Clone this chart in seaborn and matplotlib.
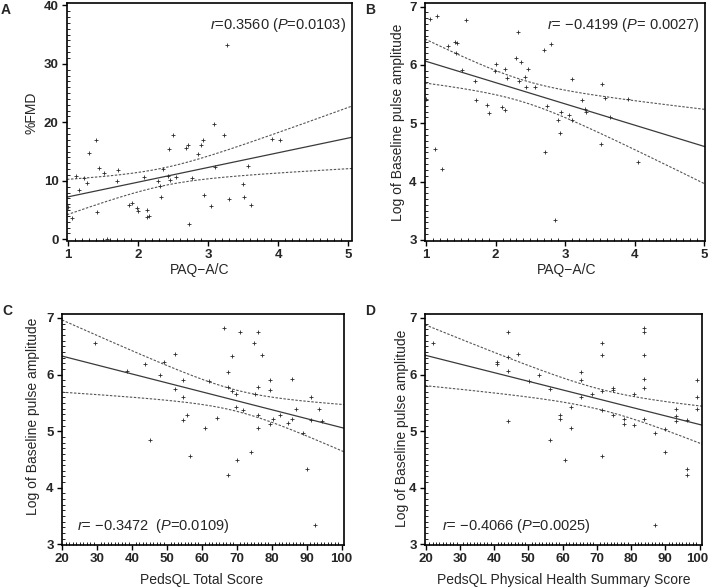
import numpy as np
import pandas as pd
import matplotlib
matplotlib.use("Agg")
import matplotlib.pyplot as plt
from matplotlib.ticker import MultipleLocator
from matplotlib.transforms import ScaledTranslation
import seaborn as sns

# ---------------- data ----------------
# Panel A: PAQ-A/C vs %FMD
a_x = [1.00, 1.06, 1.12, 1.16, 1.23, 1.27, 1.30, 1.40, 1.42, 1.44, 1.51, 1.56, 1.70, 1.72,
       1.87, 1.91, 1.98, 2.00, 2.08, 2.12, 2.13, 2.16, 2.28, 2.31, 2.33, 2.35, 2.43, 2.44,
       2.45, 2.50, 2.54, 2.68, 2.71, 2.72, 2.77, 2.85, 2.89, 2.92, 2.94, 3.04, 3.08, 3.09,
       3.23, 3.27, 3.29, 3.49, 3.51, 3.56, 3.61, 3.91, 4.02]
a_y = [5.6, 3.7, 10.9, 8.5, 10.4, 9.7, 14.8, 16.9, 4.7, 12.2, 11.3, 0.1, 9.9, 11.9,
       5.9, 6.2, 5.4, 4.9, 10.6, 5.0, 3.8, 4.0, 10.0, 9.1, 7.2, 12.0, 10.8, 15.5,
       10.2, 17.9, 10.7, 15.6, 16.1, 2.6, 10.5, 14.6, 16.1, 16.9, 7.6, 5.7, 19.7, 12.3,
       17.8, 33.2, 6.9, 9.5, 7.2, 12.6, 5.8, 17.2, 17.0]

# Panel B: PAQ-A/C vs log baseline pulse amplitude
b_x = [1.00, 1.06, 1.16, 1.13, 1.23, 1.31, 1.41, 1.45, 1.43, 1.51, 1.57, 1.70, 1.72, 1.88,
       1.91, 1.99, 2.01, 2.09, 2.13, 2.14, 2.16, 2.29, 2.32, 2.34, 2.37, 2.42, 2.44, 2.47,
       2.56, 2.69, 2.71, 2.74, 2.79, 2.85, 2.90, 2.93, 2.94, 3.06, 3.10, 3.10, 3.24, 3.29,
       3.30, 3.51, 3.53, 3.57, 3.64, 3.91, 4.05]
b_y = [5.41, 6.78, 6.84, 4.56, 4.22, 6.33, 6.39, 6.37, 6.21, 5.92, 6.77, 5.73, 5.39, 5.31,
       5.18, 5.90, 6.01, 5.28, 5.22, 5.93, 5.78, 6.11, 6.57, 5.72, 6.05, 5.79, 5.62, 5.93,
       5.62, 6.25, 4.50, 5.29, 6.35, 3.34, 5.06, 4.84, 5.19, 5.14, 5.75, 5.05, 5.40, 5.24,
       5.19, 4.64, 5.67, 5.44, 5.11, 5.41, 4.34]

# Panel C: PedsQL Total Score vs log baseline pulse amplitude
c_x = [29.4, 38.5, 43.7, 45.0, 48.0, 49.2, 52.3, 52.3, 54.5, 54.5, 55.7, 54.5, 56.7, 61.0,
       62.1, 64.2, 66.4, 67.6, 67.6, 67.6, 68.6, 68.6, 69.7, 69.7, 70.1, 70.8, 71.9, 74.0,
       75.0, 75.2, 76.1, 76.1, 76.1, 76.1, 77.3, 79.4, 79.4, 79.4, 80.4, 82.5, 84.7, 85.9,
       85.9, 86.9, 89.0, 90.2, 91.2, 91.2, 92.4, 93.4, 94.5]
c_y = [6.56, 6.07, 6.19, 4.84, 6.00, 6.22, 6.36, 5.74, 5.91, 5.61, 5.29, 5.19, 4.57, 5.05,
       5.88, 5.24, 6.82, 6.04, 5.78, 4.22, 6.32, 5.71, 5.66, 5.42, 4.50, 6.75, 5.38, 4.64,
       6.56, 5.66, 6.76, 5.78, 5.28, 5.06, 6.35, 5.91, 5.72, 5.12, 5.22, 5.28, 5.14, 5.93,
       5.22, 5.39, 4.97, 4.34, 5.60, 5.19, 3.35, 5.39, 5.18]

# Panel D: PedsQL Physical Health Summary Score vs log baseline pulse amplitude
d_x = [22.0, 40.9, 40.9, 44.0, 44.0, 44.0, 44.0, 47.1, 50.1, 53.2, 56.3, 56.3, 59.3, 59.3,
       60.7, 62.4, 62.4, 65.4, 65.4, 65.4, 68.5, 71.6, 71.6, 71.6, 71.6, 71.6, 74.7, 74.7,
       74.7, 77.8, 77.8, 80.9, 80.9, 83.9, 83.9, 83.9, 83.9, 83.9, 83.9, 87.0, 87.0, 90.0,
       90.0, 93.1, 93.1, 93.1, 96.2, 96.2, 96.2, 99.3, 99.3, 99.3]
d_y = [6.56, 6.22, 6.18, 6.75, 6.31, 6.07, 5.18, 6.36, 5.88, 6.00, 5.74, 4.84, 5.29, 5.22,
       4.50, 5.42, 5.05, 6.04, 5.91, 5.61, 5.66, 6.55, 6.34, 5.71, 5.38, 4.57, 5.76, 5.72,
       5.28, 5.22, 5.13, 5.65, 5.11, 6.82, 6.76, 6.35, 5.93, 5.76, 5.22, 4.96, 3.35, 5.04,
       4.63, 5.39, 5.26, 5.18, 5.19, 4.34, 4.22, 5.91, 5.61, 5.39]

panel_letters = ["A", "B", "C", "D"]
x_labels = ["PAQ\u2212A/C", "PAQ\u2212A/C", "PedsQL Total Score",
            "PedsQL Physical Health Summary Score"]
y_labels = ["%FMD", "Log of Baseline pulse amplitude",
            "Log of Baseline pulse amplitude", "Log of Baseline pulse amplitude"]
stat_texts = ["$r$=0.3560 ($P$=0.0103)",
              "$r$= \u22120.4199 ($P$= 0.0027)",
              "$r$= \u22120.3472  ($P$=0.0109)",
              "$r$= \u22120.4066 ($P$=0.0025)"]
x_ticks_paq = [1, 2, 3, 4, 5]
x_ticks_peds = [20, 30, 40, 50, 60, 70, 80, 90, 100]
y_ticks_fmd = [0, 10, 20, 30, 40]
y_ticks_log = [3, 4, 5, 6, 7]

# ---------------- style ----------------
sns.set_theme(style="ticks")
plt.rcParams["font.family"] = ["Liberation Sans", "DejaVu Sans"]
plt.rcParams["mathtext.fontset"] = "custom"
plt.rcParams["mathtext.rm"] = "Liberation Sans"
plt.rcParams["mathtext.it"] = "Liberation Sans:italic"
plt.rcParams["mathtext.bf"] = "Liberation Sans:bold"

W, H = 709, 588
fig = plt.figure(figsize=(W / 100, H / 100), dpi=100)
fig.patch.set_facecolor("white")


def px_axes(left, top, right, bottom):
    return fig.add_axes([left / W, 1 - bottom / H, (right - left) / W, (bottom - top) / H])


panels = [
    dict(x=a_x, y=a_y, box=(67, 3, 352, 240.5), xlim=(0.986, 5.05), ylim=(-0.2, 40.4),
         xt=x_ticks_paq, yt=y_ticks_fmd, xminor=0.1, yminor=1,
         ylab=(32, 113), xlab=(200, 270), stat=(210, 25, "left"), letter=(6, 10)),
    dict(x=b_x, y=b_y, box=(425, 3, 705, 240.5), xlim=(0.985, 5.01), ylim=(2.99, 7.06),
         xt=x_ticks_paq, yt=y_ticks_log, xminor=0.1, yminor=0.1,
         ylab=(398, 122), xlab=(567, 270), stat=(700, 25, "right"), letter=(370, 10)),
    dict(x=c_x, y=c_y, box=(62, 314, 344, 545), xlim=(19.9, 100.7), ylim=(2.99, 7.07),
         xt=x_ticks_peds, yt=y_ticks_log, xminor=1, yminor=0.1,
         ylab=(33, 416), xlab=(202, 580), stat=(77, 526, "left"), letter=(7, 311)),
    dict(x=d_x, y=d_y, box=(425, 314, 702, 545), xlim=(19.8, 100.7), ylim=(2.99, 7.07),
         xt=x_ticks_peds, yt=y_ticks_log, xminor=1, yminor=0.1,
         ylab=(402, 428), xlab=(564, 580), stat=(442, 526, "left"), letter=(370, 311)),
]

T_CRIT = 2.01  # approx. t(0.975, ~49 df)

for i, p in enumerate(panels):
    ax = px_axes(*p["box"])
    df = pd.DataFrame({"x": p["x"], "y": p["y"]})
    ax.set_xlim(*p["xlim"])
    ax.set_ylim(*p["ylim"])

    sns.scatterplot(data=df, x="x", y="y", ax=ax, marker="+", s=9,
                    color="#2a2a2a", linewidth=0.6, legend=False, zorder=3)

    # fitted line + 95% CI of the mean (dashed)
    xs = np.linspace(p["xlim"][0], p["xlim"][1], 200)
    xv = df["x"].to_numpy(); yv = df["y"].to_numpy()
    n = len(xv)
    slope, icpt = np.polyfit(xv, yv, 1)
    resid = yv - (slope * xv + icpt)
    s = np.sqrt(np.sum(resid ** 2) / (n - 2))
    sxx = np.sum((xv - xv.mean()) ** 2)
    yhat = slope * xs + icpt
    half = T_CRIT * s * np.sqrt(1 / n + (xs - xv.mean()) ** 2 / sxx)
    fit = pd.DataFrame({"x": xs, "yhat": yhat, "lo": yhat - half, "hi": yhat + half})
    sns.lineplot(data=fit, x="x", y="yhat", ax=ax, color="#3a3a3a", linewidth=0.9)
    for col in ("lo", "hi"):
        sns.lineplot(data=fit, x="x", y=col, ax=ax, color="#555555", linewidth=0.8,
                     dashes=False, linestyle=(0, (2.2, 1.4)))

    ax.set_xlim(*p["xlim"])
    ax.set_ylim(*p["ylim"])
    ax.set_xticks(p["xt"], labels=[str(t) for t in p["xt"]])
    ax.set_yticks(p["yt"], labels=[str(t) for t in p["yt"]])
    ax.xaxis.set_minor_locator(MultipleLocator(p["xminor"]))
    ax.yaxis.set_minor_locator(MultipleLocator(p["yminor"]))
    ax.tick_params(which="major", direction="out", length=3.5, width=1.0, color="black",
                   pad=2.5, labelsize=9.5)
    ax.tick_params(which="minor", direction="in", length=2, width=0.6, color="black")
    for lab in ax.get_xticklabels() + ax.get_yticklabels():
        lab.set_fontweight("bold")
    if i == 3:
        last = ax.get_xticklabels()[-1]
        last.set_transform(last.get_transform() +
                           ScaledTranslation(-2.5 / 100, 0, fig.dpi_scale_trans))
    for sp in ax.spines.values():
        sp.set_visible(True)
        sp.set_color("black")
        sp.set_linewidth(1.2)
    ax.set_xlabel("")
    ax.set_ylabel("")
    ax.set_facecolor("white")

    # axis titles, stats, letters
    fig.text(p["ylab"][0] / W, 1 - p["ylab"][1] / H, y_labels[i], rotation=90,
             ha="center", va="center", fontsize=10)
    fig.text(p["xlab"][0] / W, 1 - p["xlab"][1] / H, x_labels[i],
             ha="center", va="center", fontsize=10)
    fig.text(p["stat"][0] / W, 1 - p["stat"][1] / H, stat_texts[i],
             ha=p["stat"][2], va="center", fontsize=10.5)
    fig.text(p["letter"][0] / W, 1 - p["letter"][1] / H, panel_letters[i],
             ha="center", va="center", fontsize=10, fontweight="bold")

fig.savefig("out.png", dpi=100, facecolor="white")
